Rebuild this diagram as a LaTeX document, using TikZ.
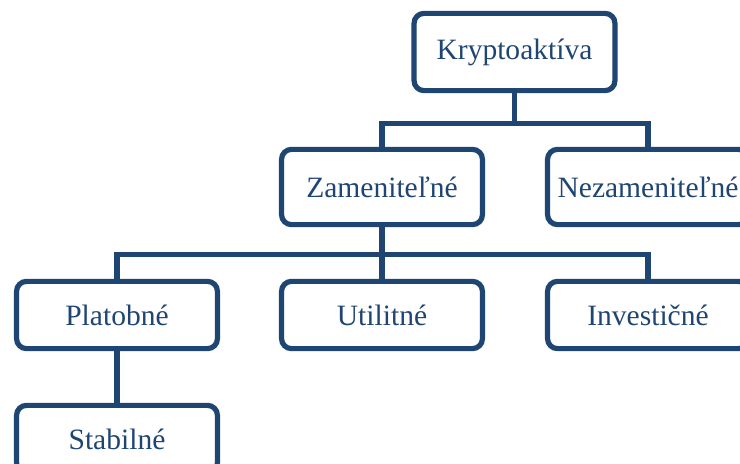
\documentclass[tikz,border=0pt]{standalone}
\usepackage{fontspec}
\setmainfont{Liberation Serif}
\usepackage{tikz}
\usetikzlibrary{arrows.meta, positioning, calc}
\definecolor{darkblue}{RGB}{31,69,115}

\begin{document}
\begin{tikzpicture}[x=0.025cm, y=-0.025cm,
    box/.style={draw=darkblue, line width=3.7pt, rounded corners=7pt, fill=white,
        text=darkblue, font=\fontsize{21}{25}\selectfont, minimum width=5.02cm, inner sep=0pt},
    link/.style={draw=darkblue, line width=3.7pt}]
            \useasboundingbox (0,0) rectangle (740,464);
            \node[box, minimum height=1.93cm] (krypto) at (514.5,52) {Kryptoaktíva};
            \node[box, minimum height=1.88cm] (zam) at (382,187) {Zameniteľné};
            \node[box, minimum height=1.88cm] (nezam) at (648,187) {Nezameniteľné};
            \node[box, minimum height=1.68cm] (plat) at (117,315) {Platobné};
            \node[box, minimum height=1.68cm] (util) at (382,315) {Utilitné};
            \node[box, minimum height=1.68cm] (inv) at (648,315) {Investičné};
            \node[box, minimum height=1.68cm] (stab) at (117,439) {Stabilné};
            \draw[link] (krypto.south) -- ++(0,30) coordinate (k1) -| (zam.north);
            \draw[link] (k1) -| (nezam.north);
            \draw[link] (zam.south) -- ++(0,27) coordinate (z1) -| (plat.north);
            \draw[link] (z1) -| (inv.north);
            \draw[link] (zam.south) -- (util.north);
            \draw[link] (plat.south) -- (stab.north);
        \end{tikzpicture}
\end{document}
